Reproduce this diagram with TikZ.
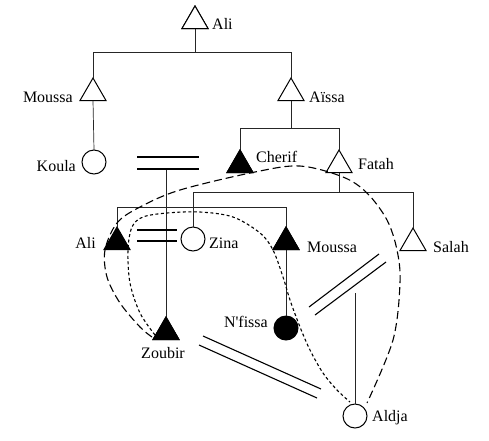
\documentclass[tikz,border=0pt]{standalone}
\usepackage{fontspec}
\setmainfont{Liberation Serif}
\newfontfamily\plainfont{Liberation Serif}[Ligatures=TeXOff]
\usetikzlibrary{shapes.geometric}
\begin{document}
\begin{tikzpicture}[x=1pt,y=-1pt,
  male/.style={regular polygon, regular polygon sides=3, minimum size=30pt, inner sep=0pt, outer sep=0pt, draw=black, line width=1pt, fill=white},
  malef/.style={male, fill=black},
  female/.style={circle, minimum size=24pt, inner sep=0pt, outer sep=0pt, draw=black, line width=1pt, fill=white},
  femalef/.style={female, fill=black},
  lbl/.style={font=\fontsize{16}{18}\selectfont, inner sep=0pt},
  kin/.style={draw=black!85, line width=0.7pt},
  marr/.style={draw=black, line width=1.1pt},
  longdash/.style={line width=1.1pt, dash pattern=on 8pt off 4pt},
  shortdash/.style={line width=1.1pt, dash pattern=on 3pt off 2.5pt}]
\useasboundingbox (0,0) rectangle (489,440);

% persons
\node[male] (ali) at (195,21) {};
\node[male] (moussa) at (93,93) {};
\node[male] (aissa) at (291,93) {};
\node[female] (koula) at (94,162) {};
\node[malef] (cherif) at (240,165) {};
\node[male] (fatah) at (339,165) {};
\node[malef] (ali2) at (117,242) {};
\node[female] (zina) at (193,239) {};
\node[malef] (moussa2) at (286,242) {};
\node[male] (salah) at (413,243) {};
\node[femalef] (nfissa) at (286,328) {};
\node[malef] (zoubir) at (166,332) {};
\node[female] (aldja) at (355,416) {};

% labels
\node[lbl, anchor=west] (lali) at (212,24) {Ali};
\node[lbl, anchor=east] (lmoussa) at (73,97) {Moussa};
\node[lbl, anchor=west] (laissa) at (309,97) {Aïssa};
\node[lbl, anchor=east] (lkoula) at (76,166) {Koula};
\node[lbl, anchor=west] (lcherif) at (256,157) {Cherif};
\node[lbl, anchor=west] (lfatah) at (358,164) {Fatah};
\node[lbl, anchor=east] (lali2) at (96,243) {Ali};
\node[lbl, anchor=west] (lzina) at (209,243) {Zina};
\node[lbl, anchor=west] (lmoussa2) at (307,247) {Moussa};
\node[lbl, anchor=west] (lsalah) at (433,247) {Salah};
\node[lbl, anchor=east] (lnfissa) at (268,322) {\plainfont N'fissa};
\node[lbl] (lzoubir) at (163,353) {Zoubir};
\node[lbl, anchor=west] (laldja) at (372,418) {Aldja};

% helper coordinates
\coordinate (bar1) at (0,52);
\coordinate (bar2) at (0,128);
\coordinate (bar3) at (0,192);
\coordinate (bar4) at (0,207);
\coordinate (m1a) at (137,157); \coordinate (m1b) at (199,157);
\coordinate (m1c) at (137,169); \coordinate (m1d) at (199,169);
\coordinate (m1) at (166,169);
\coordinate (m2a) at (137,230); \coordinate (m2b) at (177,230);
\coordinate (m2c) at (137,241); \coordinate (m2d) at (177,241);
\coordinate (m3a) at (309,307); \coordinate (m3b) at (379,254);
\coordinate (m3c) at (315,315); \coordinate (m3d) at (386,262);
\coordinate (m3) at (355,293);
\coordinate (m4a) at (203,336); \coordinate (m4b) at (321,389);
\coordinate (m4c) at (199,345); \coordinate (m4d) at (317,398);

% descent lines
\draw[kin] (ali.south) -- (ali.south |- bar1);
\draw[kin] (moussa.north) -- (moussa.north |- bar1) -- (aissa.north |- bar1) -- (aissa.north);
\draw[kin] (moussa.south) -- (koula.north);
\draw[kin] (aissa.south) -- (aissa.south |- bar2);
\draw[kin] (cherif.north) -- (cherif.north |- bar2) -- (fatah.north |- bar2) -- (fatah.north);
\draw[kin] (fatah.south) -- (fatah.south |- bar3);
\draw[kin] (zina.north) -- (zina.north |- bar3) -- (salah.north |- bar3) -- (salah.north);
\draw[kin] (ali2.north) -- (ali2.north |- bar4) -- (moussa2.north |- bar4) -- (moussa2.north);
\draw[kin] (m1) -- (zoubir.north);
\draw[kin] (moussa2.south) -- (nfissa.north);
\draw[kin] (m3) -- (aldja.north);

% marriages
\draw[marr] (m1a) -- (m1b) (m1c) -- (m1d);
\draw[marr] (m2a) -- (m2b) (m2c) -- (m2d);
\draw[marr] (m3a) -- (m3b) (m3c) -- (m3d);
\draw[marr] (m4a) -- (m4b) (m4c) -- (m4d);

% redraw symbols on top of lines
\node[male] at (ali) {};
\node[malef] at (cherif) {};
\node[malef] at (moussa2) {};
\node[malef] at (zoubir) {};

% curves
\draw[longdash] plot[smooth, tension=0.55] coordinates {(152,337) (140,327) (120,303) (107,277) (105,250) (117,223) (140,207) (180,190) (255,172) (300,166) (343,177) (367,193) (387,220) (397,250) (400,283) (393,340) (367,403)};
\draw[shortdash] plot[smooth, tension=0.55] coordinates {(155,335) (140,313) (130,283) (128,250) (132,227) (143,217) (167,213) (200,212) (233,217) (260,233) (273,250) (283,277) (290,300) (300,327) (310,350) (323,373) (337,390) (350,402)};
\end{tikzpicture}
\end{document}
